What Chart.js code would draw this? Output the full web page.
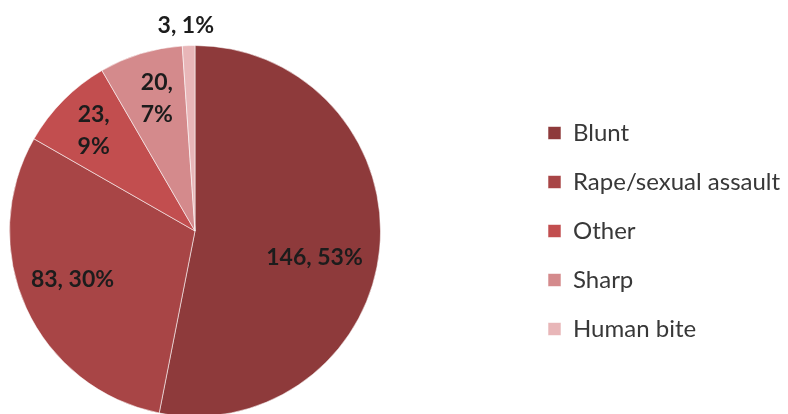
<!DOCTYPE html>
<html>
<head>
<meta charset="utf-8">
<script src="https://cdn.jsdelivr.net/npm/chart.js@4.4.1/dist/chart.umd.min.js"></script>
<style>
    html, body { margin: 0; padding: 0; background: #fff; overflow: hidden; }
    #wrap { width: 788px; height: 420px; }
</style>
</head>
<body>
<div id="wrap"><canvas id="pie"></canvas></div>
<script>
// data
const categories = ['Blunt', 'Rape/sexual assault', 'Other', 'Sharp', 'Human bite'];
const counts = [146, 83, 23, 20, 3];
const percents = [53, 30, 9, 7, 1];
const colors = ['#8e3a3b', '#a84546', '#c24e4f', '#d48a8c', '#e8b6b8'];

// where each label sits: fraction of radius, angle nudge in degrees, wrap onto two lines
const labelDist = [0.66, 0.71, 0.77, 0.745, 1.11];
const labelTurn = [7, 3, 0, 1, -0.6];
const labelWrap = [false, false, true, true, false];

// keep the pie on the left, legend block further right
const pieLayout = {
    id: 'pieLayout',
    afterLayout: function (chart) {
        var a = chart.chartArea;
        a.right = a.left + a.height;
        a.width = a.height;
        var lg = chart.legend;
        var w = lg.width;
        lg.left = 523;
        lg.right = 523 + w;
    }
};

const sliceLabels = {
    id: 'sliceLabels',
    afterDatasetsDraw: function (chart) {
        var ctx = chart.ctx;
        var meta = chart.getDatasetMeta(0);
        ctx.save();
        ctx.font = 'bold 23px Lato';
        ctx.fillStyle = '#1c1c1c';
        ctx.textAlign = 'center';
        ctx.textBaseline = 'middle';
        meta.data.forEach(function (arc, i) {
            var p = arc.getProps(['x', 'y', 'startAngle', 'endAngle', 'outerRadius'], true);
            var mid = (p.startAngle + p.endAngle) / 2 + labelTurn[i] * Math.PI / 180;
            var r = p.outerRadius * labelDist[i];
            var x = p.x + Math.cos(mid) * r;
            var y = p.y + Math.sin(mid) * r;
            if (labelWrap[i]) {
                ctx.fillText(counts[i] + ',', x, y - 16);
                ctx.fillText(percents[i] + '%', x, y + 16);
            } else {
                ctx.fillText(counts[i] + ', ' + percents[i] + '%', x, y);
            }
        });
        ctx.restore();
    }
};

new Chart(document.getElementById('pie'), {
    type: 'pie',
    data: {
        labels: categories,
        datasets: [{
            data: counts,
            backgroundColor: colors,
            borderColor: 'rgba(255,255,255,0.55)',
            borderWidth: 1
        }]
    },
    options: {
        responsive: true,
        maintainAspectRatio: false,
        animation: false,
        layout: { padding: { top: 45, left: 9, bottom: 3, right: 0 } },
        plugins: {
            tooltip: { enabled: false },
            legend: {
                position: 'right',
                align: 'center',
                labels: {
                    boxWidth: 13,
                    boxHeight: 13,
                    padding: 25,
                    color: '#383838',
                    font: { family: 'Lato', size: 24 }
                }
            }
        }
    },
    plugins: [pieLayout, sliceLabels]
});
</script>
</body>
</html>
